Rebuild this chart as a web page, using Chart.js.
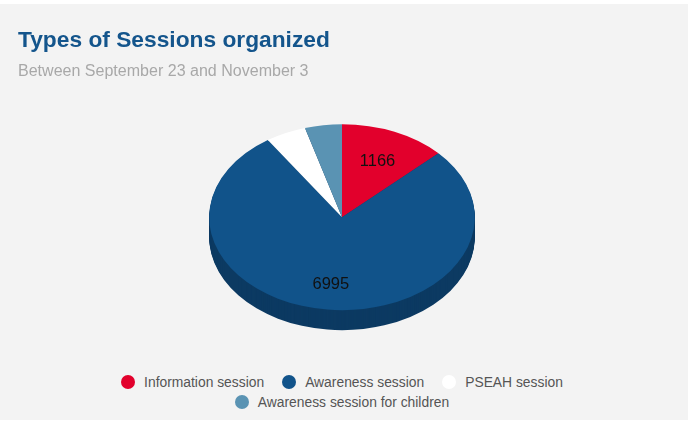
<!DOCTYPE html>
<html>
<head>
<meta charset="utf-8">
<title>Types of Sessions organized</title>
<script src="https://cdn.jsdelivr.net/npm/chart.js@4"></script>
<style>
  html, body { margin: 0; padding: 0; background: #fff; }
  #box { position: absolute; left: 0; top: 4px; width: 688px; height: 416px; background: #f3f3f3; overflow: hidden; }
  #chart { position: absolute; left: 0; top: 0; }
  #legend { position: absolute; left: 12px; top: 368px; width: 660px; display: flex; flex-wrap: wrap; justify-content: center;
    column-gap: 18px; font: 13.85px "Liberation Sans", Arial, sans-serif; color: #555; }
  #legend div { display: flex; align-items: center; height: 20px; }
  #legend i { display: block; width: 14px; height: 14px; border-radius: 50%; margin-right: 9px; }
</style>
</head>
<body>
<div id="box">
  <canvas id="chart" width="684" height="356"></canvas>
  <div id="legend"></div>
</div>
<script>
const sessionTypes = ['Information session', 'Awareness session', 'PSEAH session', 'Awareness session for children'];
const sessionCounts = [1166, 6995, 445, 405];
const sliceColors = ['#e2002c', '#11538a', '#ffffff', '#5a93b3'];
const sideColor = '#0c3a62';
const shownLabels = [true, true, false, false];

const squash = 0.7;
const depth = 20;
const fontName = '"Liberation Sans", Arial, sans-serif';

// tilts the pie and stacks dark copies of the slices under it
const tiltPlugin = {
  id: 'tilt',
  beforeDatasetsDraw(chart) {
    const ctx = chart.ctx;
    const arcs = chart.getDatasetMeta(0).data;
    const cy = arcs[0].y;
    ctx.save();
    ctx.translate(0, cy);
    ctx.scale(1, squash);
    ctx.translate(0, -cy);
    for (let d = depth; d > 0; d--) {
      ctx.save();
      ctx.translate(0, d / squash);
      for (const arc of arcs) {
        const fill = arc.options.backgroundColor;
        arc.options.backgroundColor = sideColor;
        arc.draw(ctx);
        arc.options.backgroundColor = fill;
      }
      ctx.restore();
    }
  },
  afterDatasetsDraw(chart) {
    const ctx = chart.ctx;
    ctx.restore();
    const arcs = chart.getDatasetMeta(0).data;
    ctx.save();
    ctx.font = '16.5px ' + fontName;
    ctx.fillStyle = '#111';
    ctx.textAlign = 'center';
    ctx.textBaseline = 'middle';
    arcs.forEach((arc, i) => {
      if (!shownLabels[i]) return;
      const mid = (arc.startAngle + arc.endAngle) / 2;
      const r = arc.outerRadius * 0.695;
      ctx.fillText(String(sessionCounts[i]), arc.x + Math.cos(mid) * r - 1, arc.y + Math.sin(mid) * r * squash + 3.5);
    });
    ctx.restore();
  }
};

new Chart(document.getElementById('chart'), {
  type: 'pie',
  data: {
    labels: sessionTypes,
    datasets: [{ data: sessionCounts, backgroundColor: sliceColors, borderWidth: 0 }]
  },
  options: {
    responsive: false,
    animation: false,
    events: [],
    layout: { padding: { left: 18, right: 18, bottom: 10 } },
    plugins: {
      legend: { display: false },
      tooltip: { enabled: false },
      title: {
        display: true,
        text: 'Types of Sessions organized',
        align: 'start',
        color: '#14558c',
        font: { family: fontName, size: 22.75, weight: 'bold' },
        padding: { top: 23, bottom: 8 }
      },
      subtitle: {
        display: true,
        text: 'Between September 23 and November 3',
        align: 'start',
        color: '#a8a8a8',
        font: { family: fontName, size: 16.05, weight: 'normal' },
        padding: { top: 0, bottom: 2.8 }
      }
    }
  },
  plugins: [tiltPlugin]
});

const legendBox = document.getElementById('legend');
sessionTypes.forEach((name, i) => {
  const item = document.createElement('div');
  const dot = document.createElement('i');
  dot.style.background = sliceColors[i];
  item.appendChild(dot);
  item.appendChild(document.createTextNode(name));
  legendBox.appendChild(item);
});
</script>
</body>
</html>
